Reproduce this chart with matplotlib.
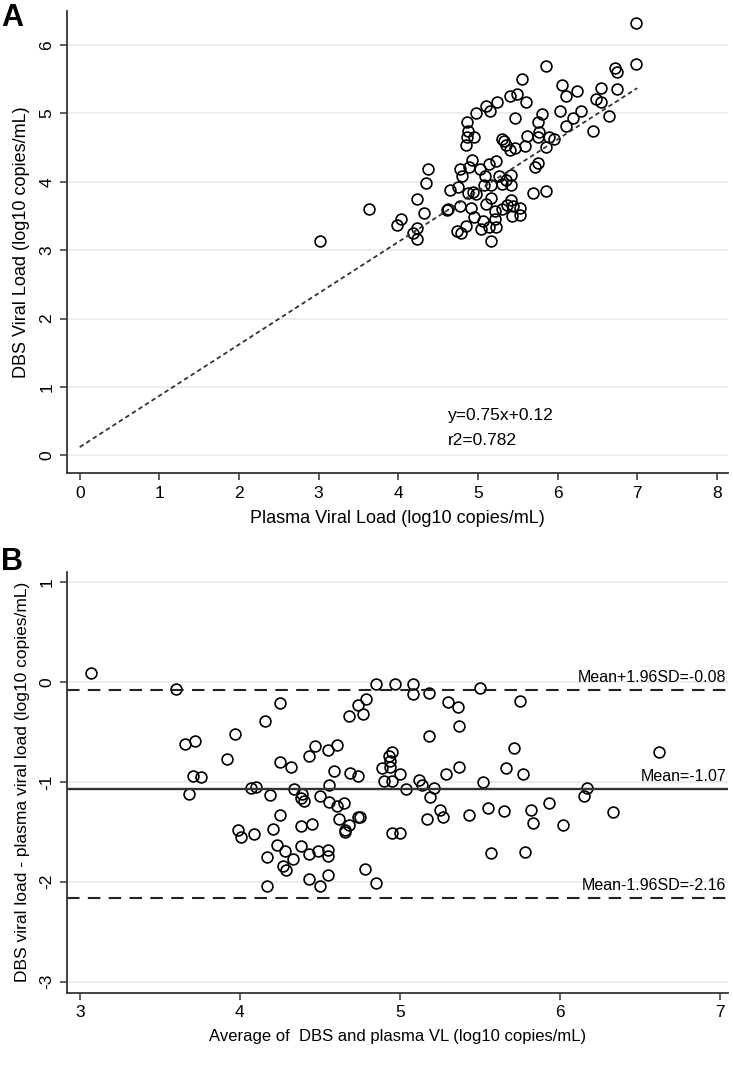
import matplotlib
matplotlib.use("Agg")
import matplotlib.pyplot as plt

plt.rcParams['font.family'] = ['Liberation Sans', 'DejaVu Sans']
plt.rcParams['axes.unicode_minus'] = False

# panel A: plasma VL vs DBS VL (log10 copies/mL)
plasma_vl = [6.99, 6.99, 6.72, 6.74, 6.55, 6.75, 6.55, 6.65,
             5.85, 5.55, 6.06, 6.10, 6.24, 6.48, 5.40, 5.49, 5.60, 5.24, 5.10, 5.15,
             4.98, 5.81, 5.46, 6.03, 6.29, 6.19, 6.11, 6.44, 5.75, 5.77, 4.86, 4.88,
             4.86, 4.95, 4.85, 5.30, 5.33, 5.35, 5.40, 5.46, 5.59, 5.62, 5.75, 5.89,
             5.95, 5.86, 4.92, 4.78, 4.89, 4.80, 5.03, 5.14, 5.23, 5.72, 5.76, 4.37,
             4.35, 4.65, 4.75, 5.09, 5.26, 5.42, 5.35, 5.69, 5.85, 4.23,
             4.88, 4.94, 4.98, 5.07, 5.17, 5.30, 5.42,
             4.32, 4.61, 4.63, 4.77, 4.91, 5.10, 5.16, 5.21, 5.30, 5.36, 5.42, 5.44,
             5.53, 5.43, 5.53, 4.95, 5.06, 4.85, 4.74, 4.79, 5.04, 5.14, 5.23, 5.21,
             5.16, 4.04, 4.24, 4.19, 4.24, 3.02, 3.63, 3.98]
dbs_vl = [6.32, 5.72, 5.67, 5.61, 5.37, 5.35, 5.17, 4.96,
          5.70, 5.51, 5.42, 5.26, 5.33, 5.21, 5.25, 5.28, 5.17, 5.16, 5.11, 5.04,
          5.00, 4.99, 4.94, 5.04, 5.04, 4.94, 4.81, 4.74, 4.87, 4.73, 4.88, 4.74,
          4.65, 4.65, 4.54, 4.63, 4.59, 4.54, 4.47, 4.50, 4.52, 4.67, 4.65, 4.65,
          4.63, 4.51, 4.32, 4.18, 4.22, 4.08, 4.18, 4.26, 4.30, 4.21, 4.27, 4.19,
          3.98, 3.88, 3.93, 4.08, 4.08, 4.10, 4.02, 3.84, 3.87, 3.75,
          3.83, 3.85, 3.82, 3.95, 3.95, 3.97, 3.95,
          3.55, 3.59, 3.60, 3.65, 3.61, 3.67, 3.77, 3.58, 3.60, 3.66, 3.73, 3.64,
          3.61, 3.50, 3.51, 3.49, 3.43, 3.35, 3.28, 3.25, 3.31, 3.34, 3.34, 3.45,
          3.14, 3.45, 3.32, 3.25, 3.16, 3.14, 3.60, 3.37]
slope, intercept, r2 = 0.75, 0.12, 0.782

# panel B: Bland-Altman
avg_vl = [3.07, 3.60, 4.25, 4.79, 4.74, 4.68, 4.77, 4.16, 3.97, 3.66, 3.72, 4.47,
          4.55, 4.61, 4.43, 3.92, 4.25, 4.32, 4.59, 4.69, 4.74, 3.71, 3.76, 4.56,
          4.07, 4.10, 4.34, 4.19, 3.68, 4.39, 4.38, 4.40, 4.50, 4.56, 4.61, 4.65,
          4.25, 4.38, 4.45, 4.62, 4.74, 4.75, 4.68, 4.66, 4.66, 3.99, 4.01, 4.09,
          4.21, 4.23, 4.28, 4.38, 4.43, 4.49, 4.55, 4.55, 4.17, 4.33,
          4.85, 4.97, 5.08, 5.08, 5.18, 5.50, 5.75, 5.30, 5.36, 5.37, 5.18, 6.62,
          5.71, 4.95, 4.93, 4.94, 4.89, 4.94, 5.00, 4.90, 4.95, 5.12, 5.14, 5.04,
          5.21, 5.19, 5.29, 5.37, 5.66, 5.77, 5.52, 6.17, 6.15, 5.93, 6.33, 5.25,
          5.27, 5.17, 5.43, 5.55, 5.65, 5.82, 5.83, 6.02, 4.95, 5.00, 5.57, 5.78,
          4.17, 4.27, 4.29, 4.43, 4.50, 4.55, 4.78, 4.85]
diff_vl = [0.09, -0.07, -0.21, -0.17, -0.23, -0.34, -0.32, -0.39, -0.52, -0.62,
           -0.59, -0.64, -0.68, -0.63, -0.74, -0.77, -0.80, -0.85, -0.89, -0.91,
           -0.94, -0.94, -0.95, -1.03, -1.06, -1.05, -1.07, -1.13, -1.12, -1.12,
           -1.16, -1.19, -1.14, -1.20, -1.24, -1.21, -1.33, -1.44, -1.42, -1.37,
           -1.35, -1.35, -1.43, -1.48, -1.50, -1.48, -1.55, -1.52, -1.47, -1.63,
           -1.69, -1.64, -1.72, -1.69, -1.68, -1.74, -1.75, -1.77,
           -0.02, -0.02, -0.02, -0.12, -0.11, -0.06, -0.19, -0.20, -0.25, -0.44,
           -0.54, -0.70, -0.66, -0.70, -0.74, -0.79, -0.86, -0.85, -0.92, -0.99,
           -0.99, -0.98, -1.03, -1.07, -1.06, -1.15, -0.92, -0.85, -0.86, -0.92,
           -1.00, -1.06, -1.14, -1.21, -1.30, -1.28, -1.35, -1.37, -1.33, -1.26,
           -1.29, -1.28, -1.41, -1.43, -1.51, -1.51, -1.71, -1.70,
           -2.04, -1.84, -1.88, -1.97, -2.04, -1.93, -1.87, -2.01]
mean_diff, upper_loa, lower_loa = -1.07, -0.08, -2.16

spine_col = '#333333'
grid_col = '#eaeaea'

fig = plt.figure(figsize=(7.33, 10.85), dpi=100)


def style_axes(ax, fs):
    for side in ['top', 'right']:
        ax.spines[side].set_visible(False)
    for side in ['left', 'bottom']:
        ax.spines[side].set_color(spine_col)
        ax.spines[side].set_linewidth(1.3)
    ax.tick_params(direction='out', length=5, width=1.1, color=spine_col,
                   labelsize=fs, pad=4)
    for lab in ax.get_yticklabels():
        lab.set_rotation(90)
        lab.set_va('center')
    ax.yaxis.grid(True, color=grid_col, linewidth=1.3)
    ax.xaxis.grid(False)
    ax.set_axisbelow(True)


# ---- panel A
axA = fig.add_axes([0.0914, 0.564, 0.9018, 0.426])
axA.plot(plasma_vl, dbs_vl, 'o', ms=7.8, mfc='none', mec='black', mew=1.2)
xs = [0, 7]
axA.plot(xs, [slope * x + intercept for x in xs], color='#333333',
         linestyle=(0, (2.5, 1.8)), linewidth=1.3)
axA.text(4.62, 0.58, "y=%.2fx+%.2f" % (slope, intercept), fontsize=12.5, va='center')
axA.text(4.62, 0.22, "r2=%.3f" % r2, fontsize=12.5, va='center')
axA.set_xlim(-0.16, 8.14)
axA.set_ylim(-0.26, 6.5)
axA.set_xticks(range(0, 9))
axA.set_yticks(range(0, 7))
axA.set_xlabel("Plasma Viral Load (log10 copies/mL)", fontsize=13, labelpad=7)
axA.set_ylabel("DBS Viral Load (log10 copies/mL)", fontsize=13, labelpad=7)
style_axes(axA, 12.5)

# ---- panel B
axB = fig.add_axes([0.0914, 0.085, 0.9018, 0.388])
axB.plot(avg_vl, diff_vl, 'o', ms=7.8, mfc='none', mec='black', mew=1.2)
axB.axhline(upper_loa, color='#222222', linestyle=(0, (6, 4)), linewidth=1.5)
axB.axhline(mean_diff, color='#333333', linewidth=1.7)
axB.axhline(lower_loa, color='#222222', linestyle=(0, (6, 4)), linewidth=1.5)
axB.text(7.04, upper_loa + 0.05, "Mean+1.96SD=%.2f" % upper_loa, ha='right', va='bottom', fontsize=11.5)
axB.text(7.04, mean_diff + 0.05, "Mean=%.2f" % mean_diff, ha='right', va='bottom', fontsize=11.5)
axB.text(7.04, lower_loa + 0.05, "Mean-1.96SD=%.2f" % lower_loa, ha='right', va='bottom', fontsize=11.5)
axB.set_xlim(2.92, 7.05)
axB.set_ylim(-3.11, 1.1)
axB.set_xticks(range(3, 8))
axB.set_yticks(range(-3, 2))
axB.set_xlabel("Average of  DBS and plasma VL (log10 copies/mL)", fontsize=12, labelpad=6)
axB.set_ylabel("DBS viral load - plasma viral load (log10 copies/mL)", fontsize=12.5, labelpad=7)
style_axes(axB, 12.5)

fig.text(0.002, 0.997, "A", fontsize=22, fontweight='bold', va='top', ha='left')
fig.text(0.002, 0.496, "B", fontsize=22, fontweight='bold', va='top', ha='left')

fig.savefig("out.png", dpi=100)
